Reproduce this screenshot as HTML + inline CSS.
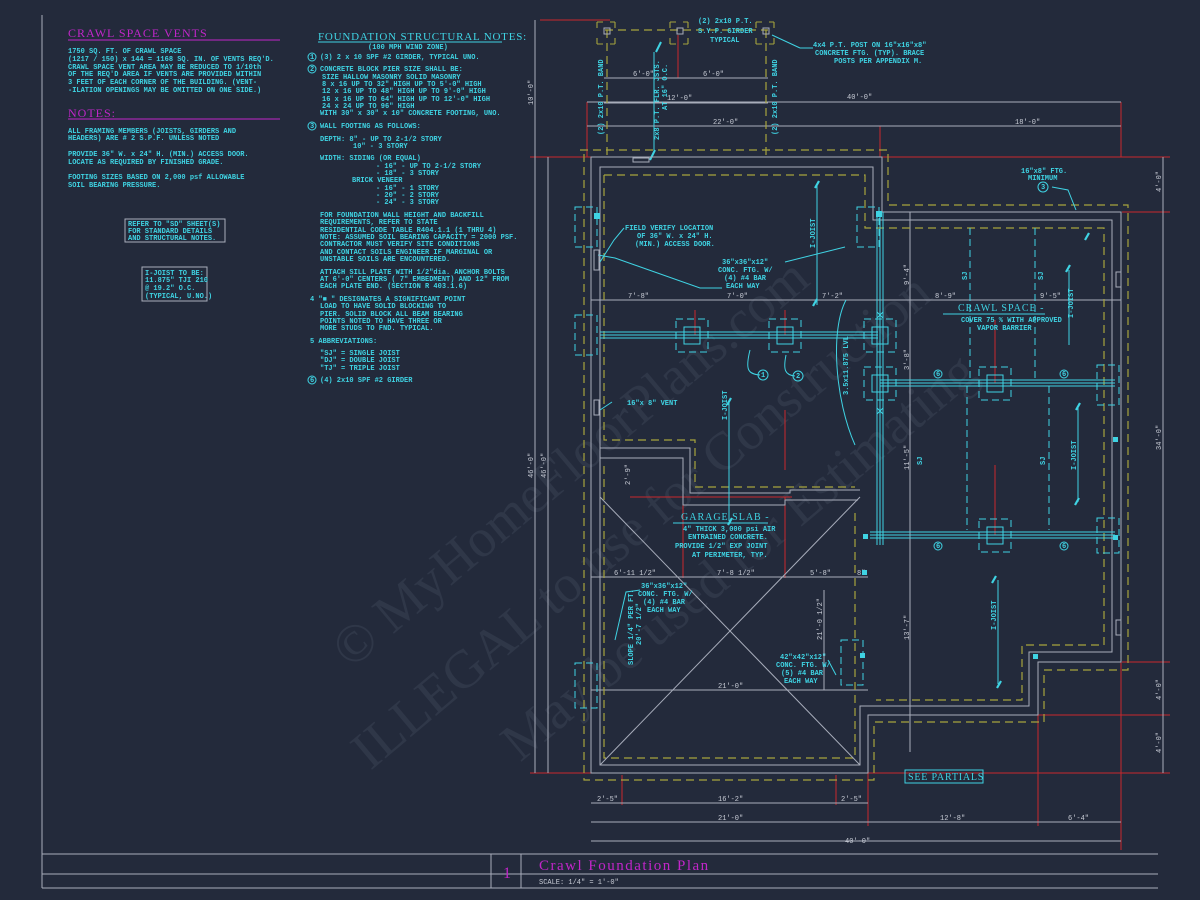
<!DOCTYPE html>
<html><head><meta charset="utf-8"><style>
html,body{margin:0;padding:0;background:#232a3b;}
svg{display:block}
.t{font-family:"Liberation Mono",monospace;font-size:7px;fill:#3fd3e3;font-weight:bold;white-space:pre}
.d{font-family:"Liberation Mono",monospace;font-size:7px;fill:#c8ccd6}
.h{font-family:"Liberation Serif",serif;fill:#c126c9}
.g{stroke:#a8adbb;fill:none;stroke-width:1}
.r{stroke:#c8282c;fill:none;stroke-width:1}
.y{stroke:#a6a43c;fill:none;stroke-width:1.2;stroke-dasharray:8 5}
.c{stroke:#3fd3e3;fill:none;stroke-width:1}
.cd{stroke:#3fd3e3;fill:none;stroke-width:1;stroke-dasharray:7 4}
.w{font-family:"Liberation Serif",serif;font-size:54px;fill:#3a4254;opacity:.55}
</style></head><body>
<svg width="1200" height="900" viewBox="0 0 1200 900" xmlns="http://www.w3.org/2000/svg">
<rect width="1200" height="900" fill="#232a3b"/>
<g transform="rotate(-40 600 500)">
<text class="w" x="300" y="470">© MyHomeFloorPlans.com</text>
<text class="w" x="250" y="560">ILLEGAL to use for Construction</text>
<text class="w" x="370" y="650">May be used for Estimating</text>
</g>
<line x1="42" y1="15" x2="42" y2="888" class="g"/>
<line x1="42" y1="854" x2="1158" y2="854" class="g"/>
<line x1="42" y1="874" x2="1158" y2="874" class="g"/>
<line x1="42" y1="888" x2="1158" y2="888" class="g"/>
<line x1="491" y1="854" x2="491" y2="888" class="g"/>
<line x1="521" y1="854" x2="521" y2="888" class="g"/>
<text class="h" x="503" y="878" font-size="16">1</text>
<text class="h" x="539" y="870" font-size="15" letter-spacing="1.5">Crawl Foundation Plan</text>
<text class="d" x="539" y="884" font-size="6.5">SCALE: 1/4" = 1'-0"</text>

<text class="h" x="68" y="37" font-size="12" letter-spacing="1">CRAWL SPACE VENTS</text>
<line x1="68" y1="40" x2="280" y2="40" stroke="#c126c9"/>
<g class="t">
<text x="68" y="53">1750 SQ. FT. OF CRAWL SPACE</text>
<text x="68" y="61">(1217 / 150) x 144 = 1168 SQ. IN. OF VENTS REQ'D.</text>
<text x="68" y="69">CRAWL SPACE VENT AREA MAY BE REDUCED TO 1/10th</text>
<text x="68" y="76">OF THE REQ'D AREA IF VENTS ARE PROVIDED WITHIN</text>
<text x="68" y="84">3 FEET OF EACH CORNER OF THE BUILDING. (VENT-</text>
<text x="68" y="92">-ILATION OPENINGS MAY BE OMITTED ON ONE SIDE.)</text>
</g>
<text class="h" x="68" y="117" font-size="12" letter-spacing="1">NOTES:</text>
<line x1="68" y1="119" x2="280" y2="119" stroke="#c126c9"/>
<g class="t">
<text x="68" y="133">ALL FRAMING MEMBERS (JOISTS, GIRDERS AND</text>
<text x="68" y="140">HEADERS) ARE # 2 S.P.F. UNLESS NOTED</text>
<text x="68" y="156">PROVIDE 36" W. x 24" H. (MIN.) ACCESS DOOR.</text>
<text x="68" y="164">LOCATE AS REQUIRED BY FINISHED GRADE.</text>
<text x="68" y="179">FOOTING SIZES BASED ON 2,000 psf ALLOWABLE</text>
<text x="68" y="187">SOIL BEARING PRESSURE.</text>
</g>
<rect x="125" y="219" width="100" height="23" class="g"/>
<g class="t"><text x="128" y="226">REFER TO "SD" SHEET(S)</text><text x="128" y="233">FOR STANDARD DETAILS</text><text x="128" y="240">AND STRUCTURAL NOTES.</text></g>
<rect x="142" y="267" width="65" height="34" class="g"/>
<g class="t"><text x="145" y="275">I-JOIST TO BE:</text><text x="145" y="282">11.875" TJI 210</text><text x="145" y="290">@ 19.2" O.C.</text><text x="145" y="298">(TYPICAL, U.NO.)</text></g>

<text x="318" y="40" font-family="Liberation Serif,serif" font-size="11" fill="#3fd3e3" letter-spacing="0.8">FOUNDATION STRUCTURAL NOTES:</text>
<line x1="318" y1="42" x2="502" y2="42" stroke="#3fd3e3"/>
<g class="t">
<text x="368" y="49">(100 MPH WIND ZONE)</text>
<text x="320" y="59">(3) 2 x 10 SPF #2 GIRDER, TYPICAL UNO.</text>
<text x="320" y="71">CONCRETE BLOCK PIER SIZE SHALL BE:</text>
<text x="322" y="79"> SIZE    HALLOW MASONRY   SOLID MASONRY</text>
<text x="322" y="86"> 8 x 16   UP TO 32" HIGH   UP TO 5'-0" HIGH</text>
<text x="322" y="93">12 x 16   UP TO 48" HIGH   UP TO 9'-0" HIGH</text>
<text x="322" y="101">16 x 16   UP TO 64" HIGH  UP TO 12'-0" HIGH</text>
<text x="322" y="108">24 x 24   UP TO 96" HIGH</text>
<text x="320" y="115">WITH 30" x 30" x 10" CONCRETE FOOTING, UNO.</text>
<text x="320" y="128">WALL FOOTING AS FOLLOWS:</text>
<text x="320" y="141">DEPTH:  8" - UP TO 2-1/2 STORY</text>
<text x="353" y="148">10" - 3 STORY</text>
<text x="320" y="160">WIDTH:  SIDING (OR EQUAL)</text>
<text x="376" y="168">- 16" - UP TO 2-1/2 STORY</text>
<text x="376" y="175">- 18" - 3 STORY</text>
<text x="352" y="182">BRICK VENEER</text>
<text x="376" y="190">- 16" - 1 STORY</text>
<text x="376" y="197">- 20" - 2 STORY</text>
<text x="376" y="204">- 24" - 3 STORY</text>
<text x="320" y="217">FOR FOUNDATION WALL HEIGHT AND BACKFILL</text>
<text x="320" y="224">REQUIREMENTS, REFER TO STATE</text>
<text x="320" y="232">RESIDENTIAL CODE TABLE R404.1.1 (1 THRU 4)</text>
<text x="320" y="239">NOTE: ASSUMED SOIL BEARING CAPACITY = 2000 PSF.</text>
<text x="320" y="246">CONTRACTOR MUST VERIFY SITE CONDITIONS</text>
<text x="320" y="254">AND CONTACT SOILS ENGINEER IF MARGINAL OR</text>
<text x="320" y="261">UNSTABLE SOILS ARE ENCOUNTERED.</text>
<text x="320" y="274">ATTACH SILL PLATE WITH 1/2"dia. ANCHOR BOLTS</text>
<text x="320" y="281">AT 6'-0" CENTERS ( 7" EMBEDMENT) AND 12" FROM</text>
<text x="320" y="288">EACH PLATE END. (SECTION R 403.1.6)</text>
<text x="310" y="301">4  "■ " DESIGNATES A SIGNIFICANT POINT</text>
<text x="320" y="308">LOAD TO HAVE SOLID BLOCKING TO</text>
<text x="320" y="316">PIER. SOLID BLOCK ALL BEAM BEARING</text>
<text x="320" y="323">POINTS NOTED TO HAVE THREE OR</text>
<text x="320" y="330">MORE STUDS TO FND. TYPICAL.</text>
<text x="310" y="343">5  ABBREVIATIONS:</text>
<text x="320" y="355">"SJ" = SINGLE JOIST</text>
<text x="320" y="362">"DJ" = DOUBLE JOIST</text>
<text x="320" y="370">"TJ" = TRIPLE JOIST</text>
<text x="320" y="382">(4) 2x10 SPF #2 GIRDER</text>
</g>
<g class="c"><circle cx="312" cy="57" r="4"/><circle cx="312" cy="69" r="4"/><circle cx="312" cy="126" r="4"/><circle cx="312" cy="380" r="4"/></g>
<g class="t" font-size="6"><text x="310" y="59">1</text><text x="310" y="71">2</text><text x="310" y="128">3</text><text x="310" y="382">6</text></g>

<g class="r">
<line x1="530" y1="157" x2="1170" y2="157"/>
<line x1="530" y1="773" x2="1170" y2="773"/>
<line x1="540" y1="20" x2="610" y2="20"/>
<line x1="1122" y1="212" x2="1170" y2="212"/>
<line x1="1122" y1="662" x2="1170" y2="662"/>
<line x1="870" y1="715" x2="1170" y2="715"/>
<line x1="587" y1="102" x2="587" y2="157"/>
<line x1="880" y1="126" x2="880" y2="157"/>
<line x1="1121" y1="102" x2="1121" y2="157"/>
<line x1="1121" y1="662" x2="1121" y2="850"/>
<line x1="1038" y1="662" x2="1038" y2="826"/>
<line x1="868" y1="760" x2="868" y2="826"/>
<line x1="622" y1="775" x2="622" y2="805"/>
<line x1="836" y1="775" x2="836" y2="805"/>
<line x1="678" y1="35" x2="678" y2="78"/>
<line x1="695" y1="335" x2="695" y2="310"/>
<line x1="785" y1="335" x2="785" y2="310"/>
<line x1="995" y1="383" x2="995" y2="320"/>
<line x1="995" y1="535" x2="995" y2="465"/>
<line x1="630" y1="497" x2="792" y2="497"/>
<line x1="683" y1="497" x2="683" y2="578"/>
<line x1="785" y1="497" x2="785" y2="578"/>
<line x1="785" y1="410" x2="785" y2="470"/>
</g>
<g class="g" stroke-width="0.8">
<line x1="535" y1="20" x2="535" y2="157"/>
<line x1="535" y1="157" x2="535" y2="773"/>
<line x1="548" y1="157" x2="548" y2="773"/>
<line x1="1163" y1="157" x2="1163" y2="773"/>
<line x1="587" y1="102" x2="1121" y2="102"/>
<line x1="587" y1="126" x2="1121" y2="126"/>
<line x1="604" y1="78" x2="768" y2="78"/>
<line x1="604" y1="103" x2="768" y2="103"/>
<line x1="591" y1="300" x2="1121" y2="300"/>
<line x1="591" y1="577" x2="868" y2="577"/>
<line x1="591" y1="690" x2="868" y2="690"/>
<line x1="591" y1="803" x2="868" y2="803"/>
<line x1="591" y1="822" x2="1121" y2="822"/>
<line x1="591" y1="841" x2="1121" y2="841"/>
<line x1="910" y1="212" x2="910" y2="752"/>
<line x1="824" y1="590" x2="824" y2="690"/>
</g>
<g class="d">
<text x="847" y="99">40'-0"</text>
<text x="713" y="124">22'-0"</text>
<text x="1015" y="124">18'-0"</text>
<text x="633" y="76">6'-0"</text>
<text x="703" y="76">6'-0"</text>
<text x="667" y="100">12'-0"</text>
<text x="628" y="298">7'-8"</text>
<text x="727" y="298">7'-0"</text>
<text x="822" y="298">7'-2"</text>
<text x="935" y="298">8'-9"</text>
<text x="1040" y="298">9'-5"</text>
<text x="614" y="575">6'-11 1/2"</text>
<text x="717" y="575">7'-8 1/2"</text>
<text x="810" y="575">5'-8"</text>
<text x="857" y="575">8"</text>
<text x="718" y="688">21'-0"</text>
<text x="597" y="801">2'-5"</text>
<text x="718" y="801">16'-2"</text>
<text x="841" y="801">2'-5"</text>
<text x="718" y="820">21'-0"</text>
<text x="940" y="820">12'-8"</text>
<text x="1068" y="820">6'-4"</text>
<text x="845" y="843">40'-0"</text>
<text transform="translate(533,105) rotate(-90)">10'-0"</text>
<text transform="translate(533,478) rotate(-90)">46'-0"</text>
<text transform="translate(546,478) rotate(-90)">46'-0"</text>
<text transform="translate(1161,192) rotate(-90)">4'-0"</text>
<text transform="translate(1161,450) rotate(-90)">34'-0"</text>
<text transform="translate(1161,700) rotate(-90)">4'-0"</text>
<text transform="translate(1161,753) rotate(-90)">4'-0"</text>
<text transform="translate(909,285) rotate(-90)">9'-4"</text>
<text transform="translate(909,370) rotate(-90)">3'-8"</text>
<text transform="translate(909,470) rotate(-90)">11'-5"</text>
<text transform="translate(909,640) rotate(-90)">13'-7"</text>
<text transform="translate(822,640) rotate(-90)">21'-0 1/2"</text>
<text transform="translate(630,485) rotate(-90)">2'-9"</text>
</g>

<g class="y">
<path d="M605 30 H768"/>
<path d="M607 30 V160"/>
<path d="M766 30 V160"/>
</g>
<g class="g"><rect x="604" y="28" width="6" height="6"/><rect x="677" y="28" width="6" height="6"/><rect x="763" y="28" width="6" height="6"/></g>
<g stroke="#a6a43c" fill="none" stroke-width="1.1">
<path d="M597 22h6M597 22v6M615 22h-5M615 22v6M597 44h6M597 44v-6M615 44h-5M615 44v-6"/>
<path d="M670 22h6M670 22v6M688 22h-5M688 22v6M670 44h6M670 44v-6M688 44h-5M688 44v-6"/>
<path d="M756 22h6M756 22v6M774 22h-5M774 22v6M756 44h6M756 44v-6M774 44h-5M774 44v-6"/>
</g>
<g class="t" font-size="6.5">
<text x="698" y="23">(2) 2x10 P.T.</text>
<text x="698" y="33">S.Y.P. GIRDER</text>
<text x="710" y="42">TYPICAL</text>
<text x="813" y="47">4x4 P.T. POST ON 16"x16"x8"</text>
<text x="815" y="55">CONCRETE FTG. (TYP). BRACE</text>
<text x="834" y="63">POSTS PER APPENDIX M.</text>
<text transform="translate(603,135) rotate(-90)">(2) 2x10 P.T. BAND</text>
<text transform="translate(777,135) rotate(-90)">(2) 2x10 P.T. BAND</text>
<text transform="translate(659,140) rotate(-90)">2x8 P.T. FLR. JSTS.</text>
<text transform="translate(667,110) rotate(-90)">AT 16" O.C.</text>
</g>
<line x1="772" y1="35" x2="800" y2="48" class="c"/><line x1="800" y1="48" x2="813" y2="48" class="c"/>
<line x1="654" y1="52" x2="654" y2="150" class="c"/>
<line x1="656" y1="52" x2="661" y2="42" stroke="#3fd3e3" stroke-width="2"/>
<line x1="650" y1="160" x2="655" y2="150" stroke="#3fd3e3" stroke-width="2"/>

<path class="g" d="M591 157 H882 V212 H1121 V662 H1038 V715 H868 V773 H591 Z"/>
<path class="g" d="M600 167 H873 V220 H1112 V652 H1029 V706 H860 V765 H600 Z"/>
<path class="g" d="M600 448 H690 V493 H790 V490 H860"/>
<path class="g" d="M600 458 H683 V505 H785 V500 H858"/>
<g class="y">
<path d="M604 175 H865 V228 H1104 V645 H1022 V700 H876"/>
<path d="M580 150 H888 V205 H1128 V670 H1044 V722 H874 V780 H584 V150"/>
<path d="M604 175 V440 H695 V487 H855"/>
<path d="M604 466 V758 H855 V508"/>
</g>
<g class="g" stroke-width="0.6"><line x1="600" y1="497" x2="860" y2="765"/><line x1="860" y1="497" x2="600" y2="765"/></g>
<g stroke="#3fd3e3" fill="none" stroke-width="1">
<line x1="600" y1="332" x2="878" y2="332"/><line x1="600" y1="335" x2="878" y2="335"/><line x1="600" y1="338" x2="878" y2="338"/>
<line x1="877" y1="212" x2="877" y2="545"/><line x1="880" y1="212" x2="880" y2="545"/><line x1="883" y1="212" x2="883" y2="545"/>
<line x1="880" y1="380" x2="1115" y2="380"/><line x1="880" y1="383" x2="1115" y2="383"/><line x1="880" y1="386" x2="1115" y2="386"/>
<line x1="870" y1="532" x2="1115" y2="532"/><line x1="870" y1="535" x2="1115" y2="535"/><line x1="870" y1="538" x2="1115" y2="538"/>
</g>
<g class="c">
<rect x="684" y="327" width="16" height="17"/><rect x="777" y="327" width="16" height="17"/><rect x="872" y="327" width="16" height="17"/>
<rect x="872" y="375" width="16" height="17"/><rect x="987" y="375" width="16" height="17"/><rect x="987" y="527" width="16" height="17"/>
</g>
<g class="cd">
<rect x="676" y="319" width="32" height="33"/><rect x="769" y="319" width="32" height="33"/><rect x="864" y="319" width="32" height="33"/>
<rect x="864" y="367" width="32" height="33"/><rect x="979" y="367" width="32" height="33"/><rect x="979" y="519" width="32" height="33"/>
<rect x="575" y="207" width="22" height="40"/><rect x="857" y="207" width="22" height="40"/>
<rect x="575" y="315" width="22" height="40"/><rect x="1097" y="365" width="22" height="40"/><rect x="1097" y="518" width="22" height="35"/>
<rect x="575" y="663" width="22" height="45"/><rect x="841" y="640" width="22" height="45"/>
<path d="M970 228 V380 M1035 228 V380 M967 386 V530 M1049 386 V530"/>
</g>
<g stroke="#3fd3e3" stroke-width="2.2">
<line x1="815" y1="188" x2="819" y2="181"/><line x1="813" y1="306" x2="817" y2="299"/>
<line x1="727" y1="405" x2="731" y2="398"/><line x1="728" y1="525" x2="732" y2="518"/>
<line x1="1066" y1="272" x2="1070" y2="265"/>
<line x1="1076" y1="410" x2="1080" y2="403"/><line x1="1075" y1="505" x2="1079" y2="498"/>
<line x1="1085" y1="240" x2="1089" y2="233"/>
<line x1="992" y1="583" x2="996" y2="576"/><line x1="997" y1="688" x2="1001" y2="681"/>
</g>
<g class="c"><line x1="817" y1="185" x2="817" y2="305"/><line x1="729" y1="401" x2="729" y2="521"/><line x1="1078" y1="408" x2="1078" y2="502"/><line x1="998" y1="580" x2="998" y2="684"/><line x1="1069" y1="270" x2="1069" y2="345"/></g>
<g class="t" font-size="6.5">
<text transform="translate(815,248) rotate(-90)">I-JOIST</text>
<text transform="translate(727,420) rotate(-90)">I-JOIST</text>
<text transform="translate(1076,470) rotate(-90)">I-JOIST</text>
<text transform="translate(996,630) rotate(-90)">I-JOIST</text>
<text transform="translate(1073,318) rotate(-90)">I-JOIST</text>
<text transform="translate(967,280) rotate(-90)">SJ</text>
<text transform="translate(1043,280) rotate(-90)">SJ</text>
<text transform="translate(922,465) rotate(-90)">SJ</text>
<text transform="translate(1045,465) rotate(-90)">SJ</text>
<text transform="translate(848,395) rotate(-90)">3.5x11.875 LVL</text>
</g>
<g class="t" font-size="6.5">
<text x="625" y="230">FIELD VERIFY LOCATION</text>
<text x="637" y="238">OF 36" W. x 24" H.</text>
<text x="635" y="246">(MIN.) ACCESS DOOR.</text>
<text x="722" y="264">36"x36"x12"</text>
<text x="718" y="272">CONC. FTG. W/</text>
<text x="724" y="280">(4) #4 BAR</text>
<text x="726" y="288">EACH WAY</text>
<text x="627" y="405">16"x 8" VENT</text>
<text x="1021" y="173">16"x8" FTG.</text>
<text x="1028" y="180">MINIMUM</text>
<text x="641" y="588">36"x36"x12"</text>
<text x="638" y="596">CONC. FTG. W/</text>
<text x="643" y="604">(4) #4 BAR</text>
<text x="647" y="612">EACH WAY</text>
<text x="780" y="659">42"x42"x12"</text>
<text x="776" y="667">CONC. FTG. W/</text>
<text x="781" y="675">(5) #4 BAR</text>
<text x="784" y="683">EACH WAY</text>
<text x="961" y="322">COVER 75 % WITH APPROVED</text>
<text x="977" y="330">VAPOR BARRIER</text>
<text x="683" y="531">4" THICK 3,000 psi AIR</text>
<text x="688" y="539">ENTRAINED CONCRETE.</text>
<text x="675" y="548">PROVIDE 1/2" EXP JOINT</text>
<text x="692" y="557">AT PERIMETER, TYP.</text>
<text transform="translate(633,665) rotate(-90)">SLOPE 1/4" PER FT.</text>
<text transform="translate(641,645) rotate(-90)">20'-7 1/2"</text>
</g>
<text x="958" y="311" font-family="Liberation Serif,serif" font-size="10" fill="#3fd3e3" letter-spacing="1">CRAWL SPACE -</text>
<line x1="943" y1="314" x2="1045" y2="314" class="c"/>
<text x="681" y="520" font-family="Liberation Serif,serif" font-size="10" fill="#3fd3e3" letter-spacing="1">GARAGE SLAB -</text>
<line x1="673" y1="523" x2="768" y2="523" class="c"/>
<rect x="905" y="770" width="78" height="13" class="c"/>
<text x="908" y="780" font-family="Liberation Serif,serif" font-size="10" fill="#3fd3e3" letter-spacing="0.8">SEE PARTIALS</text>
<g class="c" stroke-width="0.8">
<path d="M624 228 L614 240 L600 262"/>
<path d="M598 255 L615 258 L700 288 L722 288"/>
<path d="M785 262 L845 247"/>
<path d="M612 402 L600 410"/>
<path d="M846 300 C830 330 835 400 855 445"/>
<path d="M750 350 C745 370 748 374 760 375"/>
<path d="M786 355 C783 370 785 375 795 376"/>
<path d="M640 590 L626 592 L615 640"/>
<path d="M828 660 L836 675"/>
<path d="M1052 187 L1068 190 L1076 210"/>
</g>
<g class="c"><circle cx="763" cy="375" r="5"/><circle cx="798" cy="376" r="5"/><circle cx="1043" cy="187" r="5"/>
<circle cx="938" cy="374" r="4"/><circle cx="1064" cy="374" r="4"/><circle cx="938" cy="546" r="4"/><circle cx="1064" cy="546" r="4"/></g>
<g class="t" font-size="6"><text x="761" y="377">1</text><text x="796" y="378">2</text><text x="1041" y="189">3</text>
<text x="936" y="376">6</text><text x="1062" y="376">6</text><text x="936" y="548">6</text><text x="1062" y="548">6</text></g>
<g fill="#3fd3e3"><rect x="594" y="213" width="6" height="6"/><rect x="876" y="211" width="6" height="6"/><rect x="1113" y="437" width="5" height="5"/><rect x="862" y="570" width="5" height="5"/><rect x="1113" y="535" width="5" height="5"/><rect x="863" y="534" width="5" height="5"/><rect x="860" y="653" width="5" height="5"/><rect x="1033" y="654" width="5" height="5"/></g>
<g class="g"><rect x="594" y="250" width="5" height="20"/><rect x="594" y="400" width="5" height="15"/><rect x="1116" y="272" width="5" height="15"/><rect x="1116" y="620" width="5" height="15"/><rect x="633" y="158" width="16" height="4"/></g>
<g stroke="#3fd3e3" stroke-width="1"><path d="M877 312 l6 6 M883 312 l-6 6 M877 408 l6 6 M883 408 l-6 6"/></g>
</svg>
</body></html>
